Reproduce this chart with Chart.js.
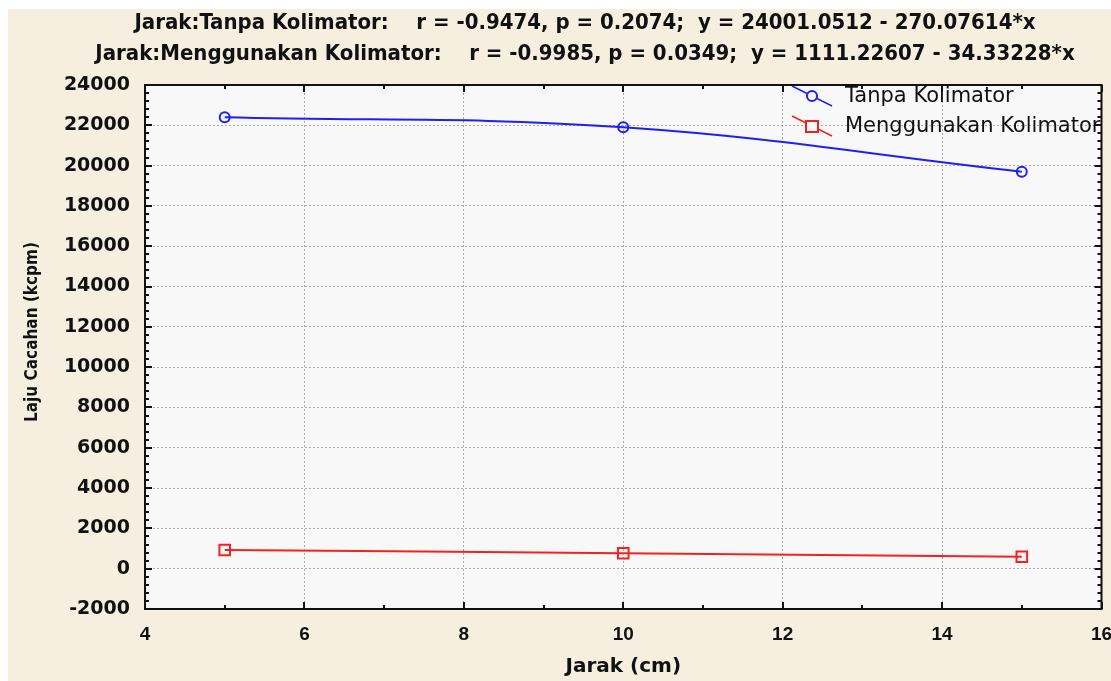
<!DOCTYPE html>
<html>
<head>
<meta charset="utf-8">
<script src="https://cdn.jsdelivr.net/npm/chart.js@4.4.1/dist/chart.umd.min.js"></script>
<style>
  html, body { margin: 0; padding: 0; background: #ffffff; }
  #wrap { width: 1111px; height: 681px; position: relative; }
</style>
</head>
<body>
<div id="wrap"><canvas id="c" width="1111" height="681"></canvas></div>
<script>
// ---- data ----
const distances = [5, 10, 15];
const tanpaKolimator = [22400, 21900, 19700];
const menggunakanKolimator = [930, 765, 596];
const seriesNames = ['Tanpa Kolimator', 'Menggunakan Kolimator'];
const titleLines = [
  'Jarak:Tanpa Kolimator:    r = -0.9474, p = 0.2074;  y = 24001.0512 - 270.07614*x',
  'Jarak:Menggunakan Kolimator:    r = -0.9985, p = 0.0349;  y = 1111.22607 - 34.33228*x'
];
const xTitle = 'Jarak (cm)';
const yTitle = 'Laju Cacahan (kcpm)';
const xRange = [4, 16, 2];
const yRange = [-2000, 24000, 2000];

const blue = '#1f1ff5';
const red = '#f52020';

const decor = {
  id: 'decor',
  beforeDraw(chart) {
    const ctx = chart.ctx, a = chart.chartArea;
    ctx.save();
    ctx.fillStyle = '#ffffff';
    ctx.fillRect(0, 0, chart.width, chart.height);
    ctx.fillStyle = '#f6efe0';
    ctx.fillRect(8, 9, chart.width - 8, chart.height - 9);
    ctx.fillStyle = '#f8f8f8';
    ctx.fillRect(a.left, a.top, a.right - a.left, a.bottom - a.top);
    ctx.restore();
  },
  afterDraw(chart) {
    const ctx = chart.ctx, a = chart.chartArea;
    const xs = chart.scales.x, ys = chart.scales.y;
    ctx.save();
    // frame
    ctx.strokeStyle = '#111111';
    ctx.lineWidth = 2;
    ctx.strokeRect(a.left, a.top, a.right - a.left, a.bottom - a.top);
    // ticks
    ctx.lineWidth = 2;
    ctx.beginPath();
    for (let v = yRange[0]; v <= yRange[1]; v += 400) {
      const y = Math.round(ys.getPixelForValue(v));
      const len = (v % 2000 === 0) ? 7 : 4;
      ctx.moveTo(a.left, y); ctx.lineTo(a.left + len, y);
      ctx.moveTo(a.right, y); ctx.lineTo(a.right - len, y);
    }
    for (let v = xRange[0]; v <= xRange[1]; v += 1) {
      const x = Math.round(xs.getPixelForValue(v));
      const len = (v % 2 === 0) ? 7 : 4;
      ctx.moveTo(x, a.bottom); ctx.lineTo(x, a.bottom - len);
      ctx.moveTo(x, a.top); ctx.lineTo(x, a.top + len);
    }
    ctx.stroke();
    // title
    ctx.fillStyle = '#111111';
    ctx.textAlign = 'center';
    ctx.textBaseline = 'middle';
    ctx.font = 'bold 22px "DejaVu Sans Condensed", "DejaVu Sans"';
    ctx.fillText(titleLines[0], 585, 23);
    ctx.fillText(titleLines[1], 585, 54);
    // y axis title
    ctx.save();
    ctx.translate(33, 332);
    ctx.rotate(-Math.PI / 2);
    ctx.font = 'bold 17px "DejaVu Sans Condensed", "DejaVu Sans"';
    ctx.fillText(yTitle, 0, 0);
    ctx.restore();
    // legend
    const items = [
      {name: seriesNames[0], color: blue, shape: 'circle', y: 96},
      {name: seriesNames[1], color: red, shape: 'rect', y: 126}
    ];
    items.forEach(it => {
      ctx.strokeStyle = it.color;
      ctx.lineWidth = 1.5;
      ctx.beginPath();
      ctx.moveTo(792, it.y - 10); ctx.lineTo(832, it.y + 10);
      ctx.stroke();
      ctx.lineWidth = 2;
      ctx.fillStyle = '#f8f8f8';
      ctx.beginPath();
      if (it.shape === 'circle') {
        ctx.arc(812, it.y, 5, 0, Math.PI * 2);
      } else {
        ctx.rect(806, it.y - 5, 12, 11);
      }
      ctx.fill();
      ctx.stroke();
      ctx.fillStyle = '#111111';
      ctx.textAlign = 'left';
      ctx.font = '21px "DejaVu Sans"';
      ctx.fillText(it.name, 845, it.y + 1);
    });
    ctx.restore();
  }
};

const toPoints = (ys) => distances.map((x, i) => ({x: x, y: ys[i]}));

new Chart(document.getElementById('c'), {
  type: 'line',
  data: {
    datasets: [
      {
        label: seriesNames[0],
        data: toPoints(tanpaKolimator),
        borderColor: blue,
        borderWidth: 2,
        pointStyle: 'circle',
        pointRadius: 5,
        pointBorderWidth: 2,
        pointBackgroundColor: 'rgba(0,0,0,0)',
        pointBorderColor: blue,
        tension: 0.4,
        fill: false
      },
      {
        label: seriesNames[1],
        data: toPoints(menggunakanKolimator),
        borderColor: red,
        borderWidth: 2,
        pointStyle: 'rect',
        pointRadius: 7.5,
        pointBorderWidth: 2,
        pointBackgroundColor: 'rgba(0,0,0,0)',
        pointBorderColor: red,
        tension: 0.4,
        fill: false
      }
    ]
  },
  options: {
    responsive: false,
    devicePixelRatio: 1,
    animation: false,
    layout: { padding: { left: 0, top: 85, right: 8, bottom: 0 } },
    plugins: {
      legend: { display: false },
      title: { display: false },
      tooltip: { enabled: false }
    },
    scales: {
      x: {
        type: 'linear',
        min: xRange[0], max: xRange[1],
        afterFit(s) { s.height = 72; s.paddingLeft = 0; s.paddingRight = 0; },
        ticks: {
          stepSize: xRange[2],
          color: '#111111',
          padding: 14,
          font: { family: '"Liberation Sans", Arial', size: 19, weight: 'bold' }
        },
        grid: { color: '#a8a8a8', lineWidth: 1, drawTicks: false },
        border: { display: false, dash: [2, 2] },
        title: {
          display: true,
          text: xTitle,
          color: '#111111',
          font: { family: '"DejaVu Sans"', size: 20, weight: 'bold' },
          padding: { top: 0, bottom: 2 }
        }
      },
      y: {
        type: 'linear',
        min: yRange[0], max: yRange[1],
        afterFit(s) { s.width = 145; s.paddingTop = 0; s.paddingBottom = 0; },
        ticks: {
          stepSize: yRange[2],
          color: '#111111',
          padding: 15,
          callback: (v) => String(v),
          font: { family: '"DejaVu Sans"', size: 19, weight: 'bold' }
        },
        grid: { color: '#a8a8a8', lineWidth: 1, drawTicks: false },
        border: { display: false, dash: [2, 2] },
        title: { display: false }
      }
    }
  },
  plugins: [decor]
});
</script>
</body>
</html>
